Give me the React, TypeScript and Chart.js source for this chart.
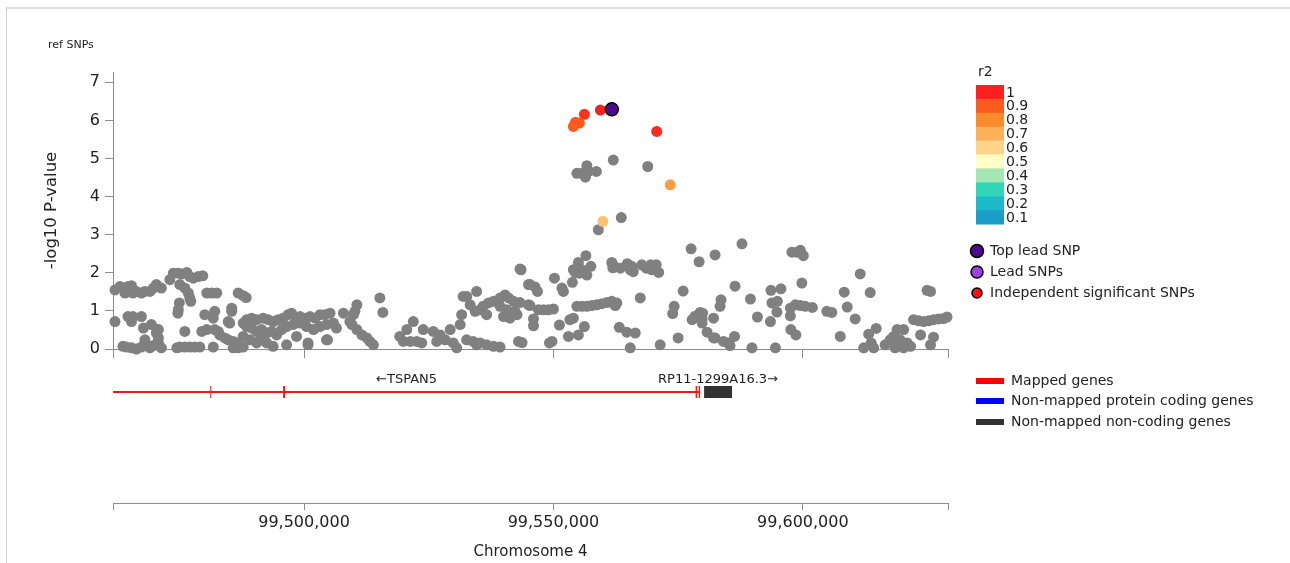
import React, { useEffect, useRef } from 'react';
import { Chart, registerables } from 'chart.js';
Chart.register(...registerables);

const FONT = 'DejaVu Sans';
const AXIS = '#8c8c8c';
const TEXT = '#222222';

// x range (kb on chromosome 4)
const xMinKb = 99461.7;
const xMaxKb = 99629.1;
const xTickKb = [99500, 99550, 99600];
const yTicks = [0, 1, 2, 3, 4, 5, 6, 7];
const yMax = 7.27;

// non-LD (grey) reference SNPs
const grayPos = [
  99462.1, 99463.1, 99464.1, 99464.7, 99465.4, 99465.7, 99466.4, 99467.4, 99468.1, 99469.1,
  99469.8, 99470.4, 99471.4, 99473.1, 99473.8, 99474.8, 99475.5, 99476.5, 99477.1, 99475.1,
  99476.1, 99476.8, 99477.1, 99477.3, 99477.8, 99478.8, 99479.7, 99475.0, 99474.8, 99474.7,
  99480.5, 99481.5, 99482.5, 99486.8, 99487.8, 99488.4, 99462.1, 99464.7, 99465.7, 99465.4,
  99467.4, 99467.8, 99470.8, 99470.4, 99469.4, 99470.8, 99476.1, 99480.1, 99482.1, 99481.8,
  99479.5, 99480.5, 99482.1, 99482.8, 99483.1, 99484.1, 99484.8, 99485.8, 99486.5, 99485.5,
  99485.5, 99484.8, 99485.1, 99487.8, 99488.5, 99489.5, 99490.5, 99491.8, 99492.8, 99493.8,
  99494.8, 99495.8, 99496.8, 99497.5, 99498.5, 99499.2, 99500.2, 99501.2, 99502.2, 99503.2,
  99504.2, 99505.2, 99488.5, 99489.5, 99490.5, 99491.5, 99492.5, 99493.5, 99494.5, 99495.5,
  99496.5, 99497.8, 99499.2, 99500.5, 99501.9, 99503.2, 99504.5, 99505.9, 99487.8, 99489.2,
  99490.5, 99491.2, 99492.5, 99493.8, 99498.5, 99500.8, 99504.5, 99506.5, 99507.9, 99509.2,
  99509.9, 99510.6, 99510.2, 99509.6, 99510.6, 99511.6, 99512.6, 99513.2, 99513.9, 99515.2,
  99515.8, 99519.2, 99520.6, 99521.9, 99523.9, 99519.9, 99521.3, 99522.6, 99523.6, 99525.9,
  99527.3, 99528.3, 99529.3, 99529.9, 99530.6, 99526.6, 99531.3, 99531.6, 99531.9, 99532.6,
  99534.6, 99533.3, 99534.3, 99535.3, 99532.6, 99533.9, 99535.3, 99536.6, 99538.0, 99539.3,
  99534.6, 99535.9, 99537.0, 99538.0, 99539.3, 99540.3, 99541.0, 99542.0, 99539.3, 99540.6,
  99542.3, 99536.6, 99540.0, 99541.3, 99542.7, 99543.3, 99545.0, 99545.0, 99543.0, 99463.7,
  99464.4, 99465.4, 99466.4, 99467.4, 99468.1, 99469.1, 99469.8, 99470.8, 99471.4, 99474.5,
  99475.1, 99476.1, 99477.1, 99478.1, 99479.1, 99481.8, 99485.8, 99486.8, 99487.8, 99496.5,
  99500.8, 99504.7, 99543.5, 99550.2, 99553.8, 99545.3, 99546.3, 99546.8, 99551.7, 99552.0,
  99556.5, 99555.0, 99554.0, 99554.4, 99555.7, 99557.5, 99556.7, 99555.2, 99561.7, 99562.2,
  99561.9, 99563.4, 99564.8, 99565.7, 99565.4, 99566.0, 99567.7, 99568.6, 99569.5, 99570.6,
  99571.1, 99569.7, 99577.6, 99582.4, 99579.2, 99554.7, 99555.7, 99556.7, 99557.7, 99558.7,
  99559.7, 99560.7, 99561.7, 99562.7, 99562.4, 99543.3, 99545.3, 99547.0, 99548.0, 99549.0,
  99550.0, 99567.4, 99576.0, 99574.2, 99573.9, 99546.0, 99546.0, 99551.2, 99553.3, 99554.0,
  99556.2, 99563.2, 99564.7, 99566.4, 99577.8, 99578.4, 99579.4, 99579.8, 99582.1, 99580.8,
  99582.1, 99553.0, 99555.0, 99549.7, 99549.2, 99543.7, 99565.4, 99571.4, 99575.0, 99562.0,
  99568.9, 99554.7, 99555.7, 99556.7, 99557.0, 99556.4, 99558.6, 99563.6, 99559.0, 99587.8,
  99597.8, 99598.8, 99599.5, 99600.1, 99611.5, 99586.4, 99583.6, 99583.4, 99589.5, 99593.6,
  99595.6, 99599.8, 99608.3, 99613.5, 99608.9, 99610.5, 99624.9, 99625.6, 99579.9, 99579.8,
  99582.4, 99584.1, 99585.1, 99585.4, 99586.3, 99590.9, 99593.5, 99593.8, 99594.9, 99594.8,
  99597.5, 99598.5, 99599.5, 99600.5, 99601.9, 99597.5, 99597.6, 99598.6, 99604.8, 99605.8,
  99607.5, 99589.8, 99594.5, 99613.2, 99614.7, 99613.7, 99612.2, 99614.2, 99616.5, 99618.9,
  99620.2, 99618.2, 99619.5, 99620.9, 99618.5, 99620.2, 99621.6, 99617.5, 99623.6, 99625.6,
  99626.2, 99622.2, 99623.2, 99624.2, 99625.2, 99626.2, 99627.2, 99628.2, 99628.9,
];
const grayP = [
  1.55, 1.64, 1.47, 1.64, 1.66, 1.47, 1.51, 1.47, 1.51, 1.51,
  1.60, 1.69, 1.60, 1.82, 1.99, 1.99, 1.97, 2.01, 1.90, 1.69,
  1.60, 1.47, 1.34, 1.25, 1.86, 1.90, 1.92, 1.21, 1.03, 0.94,
  1.47, 1.47, 1.47, 1.47, 1.40, 1.35, 0.72, 0.85, 0.85, 0.72,
  0.85, 0.55, 0.51, 0.42, 0.64, 0.29, 0.46, 0.90, 0.99, 0.81,
  0.46, 0.51, 0.51, 0.46, 0.37, 0.29, 0.24, 0.20, 0.16, 1.07,
  0.99, 0.72, 0.68, 0.68, 0.77, 0.81, 0.77, 0.81, 0.77, 0.72,
  0.77, 0.81, 0.90, 0.94, 0.81, 0.85, 0.81, 0.85, 0.81, 0.90,
  0.90, 0.94, 0.59, 0.55, 0.46, 0.51, 0.42, 0.46, 0.37, 0.51,
  0.59, 0.64, 0.68, 0.59, 0.51, 0.59, 0.64, 0.68, 0.33, 0.24,
  0.16, 0.24, 0.16, 0.07, 0.33, 0.16, 0.24, 0.55, 0.94, 0.72,
  0.90, 1.16, 0.99, 0.64, 0.51, 0.37, 0.29, 0.20, 0.11, 1.34,
  0.96, 0.33, 0.51, 0.72, 0.51, 0.20, 0.20, 0.20, 0.16, 0.46,
  0.37, 0.24, 0.51, 0.16, 0.03, 0.20, 0.64, 0.90, 1.38, 1.38,
  1.51, 1.16, 0.99, 1.03, 0.24, 0.20, 0.16, 0.11, 0.07, 0.05,
  0.11, 1.12, 1.21, 1.25, 1.34, 1.42, 1.34, 1.25, 1.12, 1.03,
  0.99, 0.90, 0.85, 0.81, 0.90, 2.10, 1.69, 1.16, 0.20, 0.07,
  0.05, 0.03, 0.00, 0.05, 0.24, 0.03, 0.09, 0.16, 0.03, 0.03,
  0.05, 0.05, 0.05, 0.05, 0.05, 0.05, 0.03, 0.03, 0.05, 0.11,
  0.11, 0.24, 2.08, 1.86, 1.75, 1.69, 1.63, 1.51, 1.60, 1.51,
  2.45, 2.27, 2.08, 2.01, 2.08, 2.17, 1.94, 1.99, 2.27, 2.17,
  2.13, 2.12, 2.24, 2.17, 2.08, 2.03, 2.21, 2.12, 2.21, 2.21,
  2.01, 2.08, 2.63, 2.47, 2.29, 1.12, 1.12, 1.12, 1.14, 1.16,
  1.19, 1.22, 1.25, 1.21, 1.14, 1.22, 1.14, 1.03, 1.03, 1.03,
  1.05, 1.34, 1.52, 1.12, 0.93, 0.79, 0.61, 0.63, 0.77, 0.81,
  0.59, 0.57, 0.44, 0.42, 0.77, 0.86, 0.96, 0.79, 0.81, 0.44,
  0.29, 0.33, 0.37, 0.20, 0.16, 0.17, 0.03, 0.11, 0.29, 4.96,
  4.79, 4.61, 4.61, 4.81, 4.66, 4.51, 4.66, 3.45, 3.13, 2.76,
  2.54, 2.54, 2.59, 2.45, 1.97, 1.65, 1.29, 1.12, 1.31, 1.54,
  1.58, 1.73, 1.49, 1.48, 1.10, 0.79, 1.54, 1.51, 0.94, 0.68,
  0.29, 0.20, 0.16, 0.09, 0.33, 0.84, 0.72, 1.21, 1.25, 0.97,
  1.07, 1.16, 1.14, 1.12, 1.09, 0.87, 0.51, 0.37, 0.99, 0.96,
  0.33, 0.03, 0.03, 0.39, 0.54, 0.16, 0.03, 0.03, 0.11, 0.51,
  0.51, 0.33, 0.24, 0.16, 0.03, 0.03, 0.07, 0.24, 0.37, 0.11,
  0.31, 0.77, 0.74, 0.72, 0.74, 0.77, 0.79, 0.80, 0.84,
];

// top lead SNP
const topLeadPos = [99561.7];
const topLeadP = [6.29];

// SNPs in LD with the lead SNP (coloured by r2)
const ldPos = [99559.4, 99556.2, 99554.4, 99555.2, 99554.0, 99570.7, 99573.4, 99559.9];
const ldP = [6.27, 6.16, 5.95, 5.93, 5.84, 5.71, 4.31, 3.35];
const ldR2 = [1.0, 0.97, 0.9, 0.9, 0.9, 0.98, 0.75, 0.65];

// r2 colour bar
const r2Levels = [1, 0.9, 0.8, 0.7, 0.6, 0.5, 0.4, 0.3, 0.2, 0.1];
const r2Colors = ['#fe1f1f', '#fb5a1e', '#fb8a2a', '#fdb15a', '#fdd58a', '#fefec6', '#a6e6b2', '#30d6b6', '#1cbac8', '#1a9cc8'];

const snpLegendLabels = ['Top lead SNP', 'Lead SNPs', 'Independent significant SNPs'];
const snpLegendColors = ['#4b0c8c', '#a040e8', '#ff1010'];

// genes
const geneNames = ['TSPAN5', 'RP11-1299A16.3'];
const geneStartKb = [99391.5, 99580.2];
const geneEndKb = [99579.4, 99585.8];
const geneStrand = ['-', '+'];
const geneKind = ['mapped', 'noncoding'];
const exonStartKb = [99481.2, 99495.8, 99578.5, 99579.1];
const exonEndKb = [99481.4, 99496.2, 99578.8, 99579.4];

const geneLegendLabels = ['Mapped genes', 'Non-mapped protein coding genes', 'Non-mapped non-coding genes'];
const geneLegendColors = ['#ff0000', '#0000ff', '#333333'];

function hexToRgb(h: string) {
  const n = parseInt(h.slice(1), 16);
  return [(n >> 16) & 255, (n >> 8) & 255, n & 255];
}
function r2Color(r: number) {
  for (let i = 0; i < r2Levels.length - 1; i++) {
    const hi = r2Levels[i], lo = r2Levels[i + 1];
    if (r <= hi && r >= lo) {
      const t = (hi - r) / (hi - lo);
      const a = hexToRgb(r2Colors[i]), b = hexToRgb(r2Colors[i + 1]);
      const c = a.map((v, k) => Math.round(v + (b[k] - v) * t));
      return `rgb(${c[0]},${c[1]},${c[2]})`;
    }
  }
  return r2Colors[r2Colors.length - 1];
}
const fmtBp = (kb: number) => Math.round(kb * 1000).toLocaleString('en-US');
const allXTicks = () => [xMinKb, ...xTickKb, xMaxKb].map((v) => ({ value: v }));

const legendPlugin = {
  id: 'snpLegends',
  afterDraw(chart: any) {
    const ctx = chart.ctx;
    ctx.save();
    ctx.fillStyle = TEXT;
    ctx.textBaseline = 'middle';
    ctx.textAlign = 'left';
    ctx.font = `11px "${FONT}"`;
    ctx.fillText('ref SNPs', 48, 45);
    // r2 bar
    ctx.font = `14px "${FONT}"`;
    ctx.fillText('r2', 978, 72);
    const top = 85, h = 13.9, x0 = 976, w = 28;
    r2Levels.forEach((lv, i) => {
      ctx.fillStyle = r2Colors[i];
      ctx.fillRect(x0, top + i * h, w, h + 0.5);
      ctx.fillStyle = TEXT;
      ctx.fillText(String(lv), 1006, top + i * h + h / 2 + 1);
    });
    // SNP types
    const ys = [251, 272, 293];
    const rs = [6.5, 6, 5];
    snpLegendLabels.forEach((lab, i) => {
      ctx.beginPath();
      ctx.arc(977, ys[i], rs[i], 0, Math.PI * 2);
      ctx.fillStyle = snpLegendColors[i];
      ctx.fill();
      ctx.lineWidth = 1.5;
      ctx.strokeStyle = '#000';
      ctx.stroke();
      ctx.fillStyle = TEXT;
      ctx.fillText(lab, 990, ys[i]);
    });
    ctx.restore();
  },
};

const geneLabelPlugin = {
  id: 'geneLabels',
  afterDatasetsDraw(chart: any) {
    const ctx = chart.ctx;
    const xs = chart.scales.x, ys = chart.scales.y;
    ctx.save();
    ctx.fillStyle = TEXT;
    ctx.font = `13px "${FONT}"`;
    ctx.textAlign = 'center';
    ctx.textBaseline = 'middle';
    geneNames.forEach((name, i) => {
      const s = Math.max(geneStartKb[i], xMinKb), e = Math.min(geneEndKb[i], xMaxKb);
      const cx = xs.getPixelForValue((s + e) / 2);
      const label = geneStrand[i] === '-' ? '\u2190' + name : name + '\u2192';
      ctx.fillText(label, cx, ys.getPixelForValue(0.4));
    });
    // gene legend
    ctx.textAlign = 'left';
    ctx.font = `14px "${FONT}"`;
    const ly = [9, 29, 50];
    geneLegendLabels.forEach((lab, i) => {
      ctx.fillStyle = geneLegendColors[i];
      ctx.fillRect(976, ly[i] - 3, 28, 6);
      ctx.fillStyle = TEXT;
      ctx.fillText(lab, 1011, ly[i]);
    });
    ctx.restore();
  },
};

export default function App() {
  const topRef = useRef<HTMLCanvasElement>(null);
  const botRef = useRef<HTMLCanvasElement>(null);

  useEffect(() => {
    Chart.defaults.font.family = FONT;
    Chart.defaults.color = TEXT;

    const top = new Chart(topRef.current!, {
      type: 'scatter',
      data: {
        datasets: [
          {
            data: topLeadPos.map((x, i) => ({ x, y: topLeadP[i] })),
            backgroundColor: '#4b0c8c',
            borderColor: '#000',
            borderWidth: 1.5,
            pointRadius: 6.5,
            clip: false,
          },
          {
            data: ldPos.map((x, i) => ({ x, y: ldP[i] })),
            backgroundColor: ldR2.map((r) => r2Color(r)),
            borderWidth: 0,
            pointRadius: 5.5,
            clip: false,
          },
          {
            data: grayPos.map((x, i) => ({ x, y: grayP[i] })),
            backgroundColor: '#808080',
            borderWidth: 0,
            pointRadius: 5.5,
            clip: false,
          },
        ],
      },
      options: {
        animation: false,
        responsive: false,
        events: [],
        layout: { padding: { top: 72, right: 342, left: 0, bottom: 0 } },
        plugins: { legend: { display: false }, tooltip: { enabled: false } },
        scales: {
          x: {
            type: 'linear',
            min: xMinKb,
            max: xMaxKb,
            afterBuildTicks: (s: any) => { s.ticks = allXTicks(); },
            afterFit: (s: any) => { s.height = 21; },
            ticks: { display: false },
            grid: { drawOnChartArea: false, drawTicks: true, tickLength: 9, color: AXIS },
            border: { color: AXIS },
          },
          y: {
            min: 0,
            max: yMax,
            afterBuildTicks: (s: any) => { s.ticks = yTicks.map((v) => ({ value: v })); },
            afterFit: (s: any) => { s.width = 113; },
            ticks: { font: { size: 16 }, color: TEXT, padding: 5 },
            grid: { drawOnChartArea: false, tickLength: 8, color: AXIS },
            border: { color: AXIS },
            title: { display: true, text: '-log10 P-value', font: { size: 16.5 }, color: TEXT, padding: { top: 42, bottom: 0 } },
          },
        },
      } as any,
      plugins: [legendPlugin],
    });

    const geneSets: any[] = [];
    geneNames.forEach((_, i) => {
      const mapped = geneKind[i] === 'mapped';
      geneSets.push({
        type: 'line',
        data: [{ x: geneStartKb[i], y: 1 }, { x: geneEndKb[i], y: 1 }],
        borderColor: mapped ? '#f01818' : '#333333',
        borderWidth: mapped ? 2 : 12,
        borderCapStyle: 'butt',
        pointRadius: 0,
        showLine: true,
      });
    });
    exonStartKb.forEach((s, i) => {
      geneSets.push({
        type: 'line',
        data: [{ x: s, y: 1 }, { x: exonEndKb[i], y: 1 }],
        borderColor: '#f01818',
        borderWidth: 12,
        borderCapStyle: 'butt',
        pointRadius: 0,
        showLine: true,
      });
    });

    const bot = new Chart(botRef.current!, {
      type: 'scatter',
      data: { datasets: geneSets },
      options: {
        animation: false,
        responsive: false,
        events: [],
        layout: { padding: { top: 0, right: 342, left: 113, bottom: 0 } },
        plugins: { legend: { display: false }, tooltip: { enabled: false } },
        scales: {
          x: {
            type: 'linear',
            min: xMinKb,
            max: xMaxKb,
            afterBuildTicks: (s: any) => { s.ticks = allXTicks(); },
            afterFit: (s: any) => { s.height = 60; },
            ticks: {
              font: { size: 16 },
              color: TEXT,
              padding: 3,
              maxRotation: 0,
              autoSkip: false,
              callback: (v: any) => (xTickKb.includes(v) ? fmtBp(v) : ''),
            },
            grid: { drawOnChartArea: false, tickLength: 7, color: AXIS },
            border: { color: AXIS },
            title: { display: true, text: 'Chromosome 4', font: { size: 15 }, color: TEXT, padding: { top: 0, bottom: 2 } },
          },
          y: { display: false, reverse: true, min: 0, max: 6.55 },
        },
      } as any,
      plugins: [geneLabelPlugin],
    });

    return () => {
      top.destroy();
      bot.destroy();
    };
  }, []);

  return (
    <div style={{ position: 'fixed', left: 0, top: 0, width: 1290, height: 563, overflow: 'hidden', background: '#fff' }}>
      <div style={{ position: 'absolute', left: 6, top: 7, width: 1284, height: 556, borderTop: '2px solid #dcdcdc', borderLeft: '1px solid #cfcfcf' }} />
      <canvas ref={topRef} width={1290} height={370} style={{ position: 'absolute', left: 0, top: 0, display: 'block' }} />
      <canvas ref={botRef} width={1290} height={191} style={{ position: 'absolute', left: 0, top: 372, display: 'block' }} />
    </div>
  );
}
